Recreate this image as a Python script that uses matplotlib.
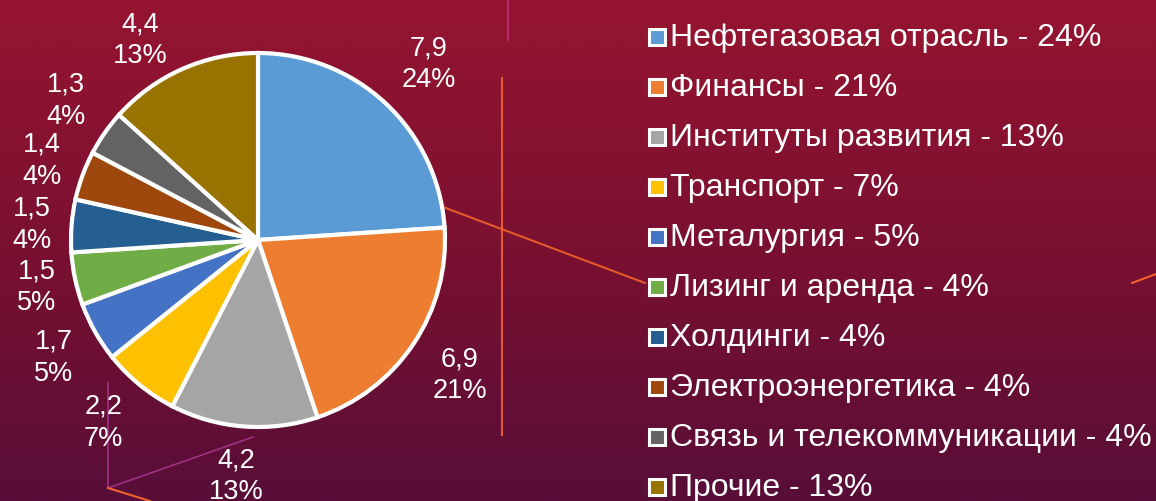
import numpy as np
import matplotlib.pyplot as plt
from matplotlib.colors import LinearSegmentedColormap
from matplotlib.patches import Rectangle

plt.rcParams['font.family'] = ['Liberation Sans', 'DejaVu Sans']

# data
sectors = ["Нефтегазовая отрасль - 24%", "Финансы - 21%", "Институты развития - 13%",
           "Транспорт - 7%", "Металургия - 5%", "Лизинг и аренда - 4%",
           "Холдинги - 4%", "Электроэнергетика - 4%",
           "Связь и телекоммуникации - 4%", "Прочие - 13%"]
values = [7.9, 6.9, 4.2, 2.2, 1.7, 1.5, 1.5, 1.4, 1.3, 4.4]
value_labels = ["7,9", "6,9", "4,2", "2,2", "1,7", "1,5", "1,5", "1,4", "1,3", "4,4"]
pct_labels = ["24%", "21%", "13%", "7%", "5%", "5%", "4%", "4%", "4%", "13%"]
colors = ["#5B9BD5", "#ED7D31", "#A5A5A5", "#FFC000", "#4472C4",
          "#70AD47", "#255E91", "#9E480E", "#636363", "#997300"]

W, H = 1156, 501
fig = plt.figure(figsize=(W / 100, H / 100), dpi=100)

# background gradient
bg = fig.add_axes([0, 0, 1, 1], zorder=0)
cmap = LinearSegmentedColormap.from_list("bg", ["#961530", "#7a1030", "#580e38"])
grad = np.linspace(0, 1, 256).reshape(-1, 1)
bg.imshow(grad, cmap=cmap, aspect="auto", extent=[0, W, H, 0])
# decorative lines (pixel coords)
bg.plot([443, 645], [207, 283], color="#f0622a", lw=1.5, alpha=0.9)
bg.plot([502, 502], [78, 435], color="#f0622a", lw=1.5, alpha=0.9)
bg.plot([508, 508], [0, 40], color="#c0307a", lw=1.5, alpha=0.8)
bg.plot([1132, 1156], [283, 274], color="#f0622a", lw=1.5)
bg.plot([108, 108], [383, 488], color="#b03a9a", lw=1.2, alpha=0.8)
bg.plot([108, 253], [488, 437], color="#b03a9a", lw=1.2, alpha=0.8)
bg.plot([108, 150], [488, 501], color="#f0622a", lw=1.5)
bg.set_xlim(0, W)
bg.set_ylim(H, 0)
bg.axis("off")

# pie
cx, cy, R = 258, 240, 187
box = 200
ax = fig.add_axes([(cx - box) / W, (H - cy - box) / H, 2 * box / W, 2 * box / H], zorder=1)
wedges, _ = ax.pie(values, colors=colors, startangle=90, counterclock=False, radius=1,
                   wedgeprops=dict(edgecolor="white", linewidth=3))
ax.set_xlim(-box / R, box / R)
ax.set_ylim(-box / R, box / R)
ax.axis("off")

# label placement (radial distance, angle shift in degrees)
dist = [1.31, 1.30, 1.27, 1.28, 1.26, 1.21, 1.21, 1.23, 1.27, 1.24]
shift = [-1, 0, -1, -1, 0.5, 0, 0.5, 0, -1, 6.5]
for w, v, p, d, s in zip(wedges, value_labels, pct_labels, dist, shift):
    ang = np.deg2rad((w.theta1 + w.theta2) / 2 + s)
    ax.text(d * np.cos(ang), d * np.sin(ang), f"{v}\n{p}", ha="center", va="center",
            color="white", fontsize=19.5, linespacing=1.3)

# legend
legend_y0, step = 37, 50
for i, (name, c) in enumerate(zip(sectors, colors)):
    y = legend_y0 + i * step
    bg.add_patch(Rectangle((649, y - 8), 16, 16, facecolor=c, edgecolor="white", lw=2.2))
    bg.text(670, y + 1, name, color="white", fontsize=23, va="center", ha="left")

fig.savefig("out.png", dpi=100)
